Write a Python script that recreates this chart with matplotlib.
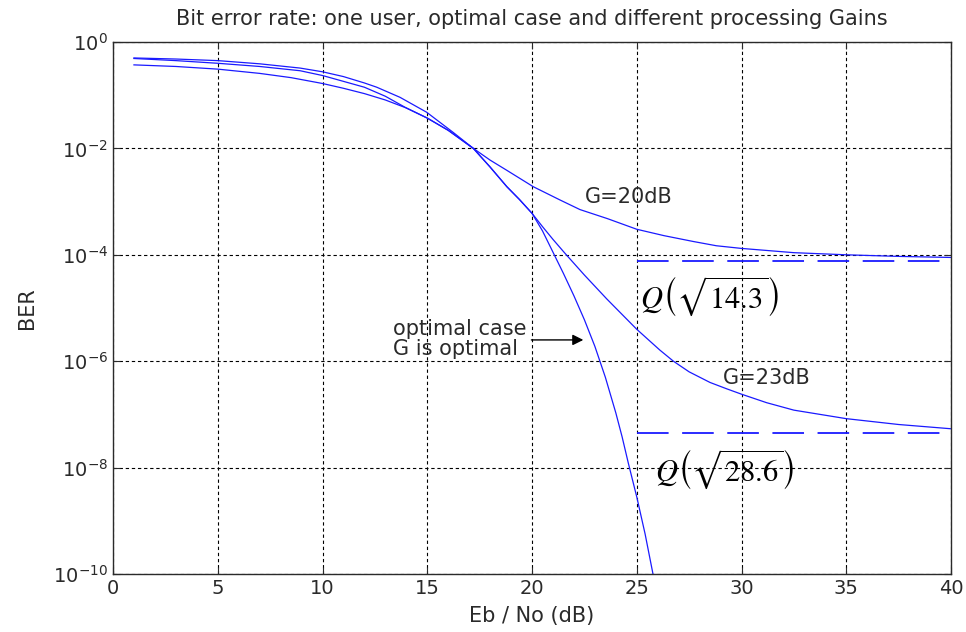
import math
import matplotlib
matplotlib.use("Agg")
import matplotlib.pyplot as plt
import numpy as np

# Eb/No (dB) and log10(BER)
ebno_opt = [1, 3, 5, 7, 8.93, 10, 11, 12, 12.59, 13.7, 14.97, 16.24, 17.2, 18.0,
            18.8, 19.4, 20.0, 20.5, 21.0, 21.5, 22.0, 22.5, 23.0, 23.5, 24.0, 24.3,
            24.6, 25.0, 25.4, 25.8]
logber_opt = [-0.30, -0.32, -0.35, -0.41, -0.49, -0.56, -0.65, -0.77, -0.85, -1.04,
              -1.32, -1.70, -2.00, -2.35, -2.72, -2.96, -3.22, -3.55, -3.95, -4.35,
              -4.77, -5.22, -5.72, -6.30, -6.97, -7.42, -7.92, -8.55, -9.25, -10.05]

ebno_g23 = [1, 3, 5, 7, 8.93, 10, 11, 12, 13, 14, 15, 16, 17.2, 18.0, 18.8, 19.4,
            20.0, 20.5, 21.0, 21.57, 22.5, 23.57, 25.0, 26.1, 26.75, 27.5, 28.5, 29.3,
            30, 31.2, 32.5, 35, 37.5, 40]
logber_g23 = [-0.31, -0.35, -0.40, -0.46, -0.54, -0.63, -0.74, -0.85, -1.02, -1.24,
              -1.43, -1.66, -2.00, -2.35, -2.72, -2.96, -3.22, -3.47, -3.71, -3.97,
              -4.38, -4.83, -5.40, -5.79, -6.00, -6.20, -6.40, -6.52, -6.62, -6.78,
              -6.92, -7.08, -7.19, -7.27]

ebno_g20 = [1, 3, 5, 7, 8.5, 10, 11, 12, 13, 14, 15, 16, 17.2, 18.0, 18.79, 20.06,
            21.34, 22.29, 23.6, 25.0, 26.3, 27.7, 28.8, 30, 32.5, 35, 37.5, 40]
logber_g20 = [-0.43, -0.46, -0.51, -0.59, -0.67, -0.78, -0.87, -0.97, -1.09, -1.24,
              -1.43, -1.66, -2.00, -2.22, -2.41, -2.72, -2.97, -3.15, -3.32, -3.52,
              -3.64, -3.75, -3.83, -3.88, -3.96, -4.00, -4.03, -4.05]

# asymptotic floors Q(sqrt(x)) drawn from Eb/No = 25 to 40 dB
floor_args = [14.3, 28.6]
floor_labels = [r"$Q\left(\sqrt{14.3}\right)$", r"$Q\left(\sqrt{28.6}\right)$"]
floor_x = [25, 40]

x_ticks = [0, 5, 10, 15, 20, 25, 30, 35, 40]
y_ticks = [1e0, 1e-2, 1e-4, 1e-6, 1e-8, 1e-10]


def qfunc(x):
    return 0.5 * math.erfc(x / math.sqrt(2))


plt.rcParams["font.family"] = "DejaVu Sans"
fs = 15
ink = "#2a2a2a"

fig = plt.figure(figsize=(9.66, 6.32), dpi=100)
ax = fig.add_axes([113 / 966, 1 - 574 / 632, 838 / 966, 532 / 632])

blue = "#1a1aff"
for xs, ys in [(ebno_g20, logber_g20), (ebno_g23, logber_g23), (ebno_opt, logber_opt)]:
    ax.semilogy(xs, 10 ** np.array(ys), color=blue, lw=0.9)

for arg in floor_args:
    q = qfunc(math.sqrt(arg))
    ax.semilogy(floor_x, [q, q], color=blue, lw=1.3, linestyle=(0, (17.5, 7.5)))

ax.set_xlim(0, 40)
ax.set_ylim(1e-10, 1e0)
ax.set_xticks(x_ticks)
ax.set_yticks(y_ticks)
ax.minorticks_off()
ax.tick_params(direction="in", top=True, right=True, length=5, labelsize=14,
               colors=ink)
ax.grid(True, color="black", linestyle=(0, (3, 2.5)), lw=0.8)
for sp in ax.spines.values():
    sp.set_color(ink)
    sp.set_linewidth(1.0)

ax.set_title("Bit error rate: one user, optimal case and different processing Gains",
             fontsize=fs, pad=12, color=ink)
ax.set_xlabel("Eb / No (dB)", fontsize=fs, color=ink, labelpad=6)
ax.set_ylabel("BER", fontsize=fs, color=ink, labelpad=12)

ax.text(22.5, 10 ** -2.92, "G=20dB", fontsize=fs, color=ink, va="center")
ax.text(29.1, 10 ** -6.31, "G=23dB", fontsize=fs, color=ink, va="center")

ax.text(25.15, 10 ** -4.79, floor_labels[0], fontsize=22, math_fontfamily="stix",
        va="center", ha="left")
ax.text(25.87, 10 ** -8.04, floor_labels[1], fontsize=22, math_fontfamily="stix",
        va="center", ha="left")

ax.text(13.35, 10 ** -5.58, "optimal case\nG is optimal", fontsize=fs,
        color=ink, va="center", ha="left", linespacing=1.0)
ax.annotate("", xy=(22.45, 10 ** -5.6), xytext=(19.97, 10 ** -5.6),
            arrowprops=dict(arrowstyle="-|>", color="black", lw=1.0,
                            mutation_scale=16, shrinkA=0, shrinkB=0))

fig.savefig("out.png", dpi=100)
